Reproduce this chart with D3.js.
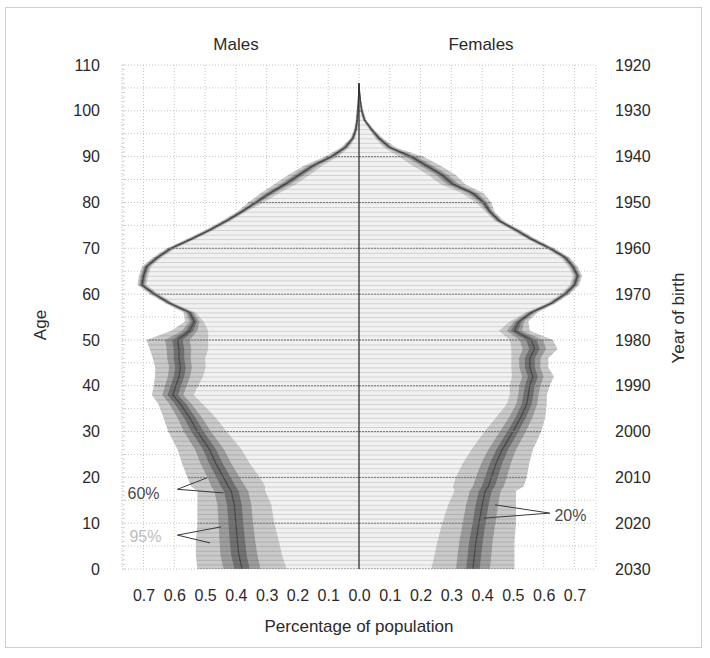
<!DOCTYPE html>
<html>
<head>
  <meta charset="utf-8">
  <style>
    body { margin: 0; background: #fff; }
    svg text { font-family: "Liberation Sans", Arial, sans-serif; fill: #2a2a2a; }
    svg .tick text { font-size: 16px; }
    svg .grid { stroke: #c4c4c4; stroke-width: 1px; stroke-dasharray: 1,2; fill: none; }
  </style>
</head>
<body>
  <div id="chart"></div>
  <script src="https://d3js.org/d3.v7.min.js"></script>
  <script>
    var ages = [0, 3, 6, 10, 14, 17, 18, 20, 23, 26, 30, 33, 36, 38, 40, 42, 44, 46, 48, 50,
                52, 54, 56, 58, 60, 62, 64, 66, 68, 70, 72, 74, 76, 78, 80, 82, 84, 86, 88, 90,
                92, 94, 96, 98, 100, 102, 104, 106];

    // median share of population (%) per age
    var maleMedian = [0.38, 0.39, 0.395, 0.40, 0.405, 0.415, 0.425, 0.44, 0.465, 0.485, 0.525, 0.55, 0.58, 0.605, 0.595, 0.585, 0.58, 0.585, 0.585, 0.59,
                      0.55, 0.535, 0.55, 0.615, 0.665, 0.705, 0.70, 0.69, 0.655, 0.61, 0.545, 0.485, 0.43, 0.38, 0.335, 0.29, 0.24, 0.195, 0.15, 0.09,
                      0.045, 0.02, 0.01, 0.006, 0.004, 0.002, 0.001, 0];
    var femaleMedian = [0.37, 0.375, 0.38, 0.39, 0.40, 0.41, 0.42, 0.43, 0.445, 0.465, 0.50, 0.525, 0.545, 0.55, 0.555, 0.565, 0.555, 0.555, 0.57, 0.56,
                        0.505, 0.52, 0.56, 0.625, 0.67, 0.70, 0.71, 0.695, 0.67, 0.62, 0.56, 0.51, 0.455, 0.425, 0.405, 0.37, 0.305, 0.27, 0.22, 0.17,
                        0.10, 0.065, 0.04, 0.018, 0.009, 0.005, 0.002, 0];

    // half widths of the 20%, 60% and 95% prediction intervals
    var male20 = [0.025, 0.025, 0.025, 0.024, 0.024, 0.024, 0.024, 0.023, 0.022, 0.021, 0.02, 0.019, 0.018, 0.017, 0.017, 0.017, 0.017, 0.017, 0.017, 0.017,
                  0.012, 0.008, 0.006, 0.005, 0.005, 0.005, 0.005, 0.005, 0.005, 0.005, 0.005, 0.005, 0.005, 0.005, 0.006, 0.007, 0.008, 0.008, 0.007, 0.006,
                  0.004, 0.003, 0.003, 0.002, 0.002, 0.001, 0.001, 0];
    var male60 = [0.06, 0.06, 0.058, 0.056, 0.055, 0.055, 0.055, 0.052, 0.05, 0.047, 0.044, 0.04, 0.036, 0.034, 0.035, 0.036, 0.037, 0.038, 0.04, 0.04,
                  0.025, 0.016, 0.012, 0.009, 0.009, 0.009, 0.009, 0.009, 0.009, 0.009, 0.009, 0.009, 0.009, 0.009, 0.012, 0.015, 0.017, 0.017, 0.015, 0.012,
                  0.008, 0.005, 0.004, 0.003, 0.003, 0.002, 0.001, 0];
    var male95 = [0.145, 0.14, 0.135, 0.125, 0.12, 0.11, 0.12, 0.118, 0.11, 0.104, 0.095, 0.085, 0.072, 0.068, 0.072, 0.078, 0.082, 0.085, 0.095, 0.10,
                  0.06, 0.03, 0.02, 0.015, 0.015, 0.015, 0.015, 0.015, 0.015, 0.015, 0.015, 0.015, 0.015, 0.015, 0.025, 0.03, 0.035, 0.035, 0.03, 0.022,
                  0.014, 0.008, 0.006, 0.005, 0.004, 0.003, 0.002, 0];
    var female20 = [0.022, 0.022, 0.022, 0.021, 0.021, 0.021, 0.021, 0.021, 0.02, 0.019, 0.018, 0.017, 0.016, 0.016, 0.016, 0.016, 0.016, 0.016, 0.017, 0.017,
                    0.012, 0.008, 0.006, 0.005, 0.005, 0.005, 0.005, 0.005, 0.005, 0.005, 0.005, 0.005, 0.005, 0.005, 0.006, 0.008, 0.009, 0.009, 0.009, 0.008,
                    0.005, 0.004, 0.003, 0.002, 0.002, 0.001, 0.001, 0];
    var female60 = [0.055, 0.055, 0.054, 0.053, 0.052, 0.05, 0.05, 0.05, 0.048, 0.045, 0.042, 0.038, 0.034, 0.033, 0.034, 0.035, 0.034, 0.035, 0.038, 0.038,
                    0.025, 0.016, 0.012, 0.009, 0.009, 0.009, 0.009, 0.009, 0.009, 0.009, 0.009, 0.009, 0.009, 0.009, 0.012, 0.017, 0.02, 0.02, 0.02, 0.018,
                    0.01, 0.008, 0.005, 0.004, 0.003, 0.002, 0.001, 0];
    var female95 = [0.135, 0.13, 0.125, 0.12, 0.11, 0.10, 0.115, 0.115, 0.108, 0.10, 0.092, 0.08, 0.065, 0.06, 0.065, 0.068, 0.06, 0.06, 0.075, 0.07,
                    0.05, 0.03, 0.02, 0.015, 0.015, 0.015, 0.015, 0.015, 0.015, 0.015, 0.015, 0.015, 0.015, 0.015, 0.025, 0.035, 0.04, 0.045, 0.045, 0.04,
                    0.02, 0.012, 0.008, 0.006, 0.005, 0.003, 0.002, 0];

    var xTicks = [-0.7, -0.6, -0.5, -0.4, -0.3, -0.2, -0.1, 0, 0.1, 0.2, 0.3, 0.4, 0.5, 0.6, 0.7];
    var ageTicks = [0, 10, 20, 30, 40, 50, 60, 70, 80, 90, 100, 110];
    var yearTicks = [2030, 2020, 2010, 2000, 1990, 1980, 1970, 1960, 1950, 1940, 1930, 1920];

    // annotation labels: text, colour, label position, line ends (share, age)
    var notes = [
      { text: "60%", color: "#4a4a4a", x: -0.752, age: 16.6, from: [-0.59, 17.4], to: [[-0.494, 19.9], [-0.44, 16.6]] },
      { text: "95%", color: "#bdbdbd", x: -0.746, age: 7.2, from: [-0.59, 7.4], to: [[-0.448, 9.2], [-0.484, 5.7]] },
      { text: "20%", color: "#4a4a4a", x: 0.635, age: 11.8, from: [0.62, 12.2], to: [[0.442, 14.0], [0.406, 11.1]] }
    ];

    var W = 710, H = 658;
    var svg = d3.select("#chart").append("svg")
      .attr("width", W)
      .attr("height", H);

    // frame round the figure
    svg.append("rect")
      .attr("x", 5.5).attr("y", 7.5)
      .attr("width", 696).attr("height", 640)
      .attr("fill", "none")
      .attr("stroke", "#cfcfcf");

    var xScale = d3.scaleLinear().domain([-0.77, 0.77]).range([122, 596]);
    var yScale = d3.scaleLinear().domain([0, 110]).range([569, 65]);
    var yearScale = d3.scaleLinear().domain([2030, 1920]).range([569, 65]);

    // grid
    var grid = svg.append("g");
    grid.selectAll("line.v")
      .data(xTicks.concat([-0.77, 0.77]))
      .enter().append("line")
        .classed("grid", true)
        .attr("x1", d => xScale(d)).attr("x2", d => xScale(d))
        .attr("y1", yScale(110)).attr("y2", yScale(0));
    grid.selectAll("line.h")
      .data(d3.range(0, 111, 5))
      .enter().append("line")
        .classed("grid", true)
        .attr("x1", xScale(-0.77)).attr("x2", xScale(0.77))
        .attr("y1", d => yScale(d)).attr("y2", d => yScale(d));

    // small year ticks along the left edge
    grid.selectAll("line.m")
      .data(d3.range(0, 111))
      .enter().append("line")
        .attr("x1", xScale(-0.77)).attr("x2", xScale(-0.77) + 3)
        .attr("y1", d => yScale(d)).attr("y2", d => yScale(d))
        .attr("stroke", "#d0d0d0");

    function side(median, h20, h60, h95, sign) {
      return ages.map(function (a, i) {
        return {
          age: a,
          med: sign * median[i],
          lo20: sign * (median[i] - h20[i]), hi20: sign * (median[i] + h20[i]),
          lo60: sign * (median[i] - h60[i]), hi60: sign * (median[i] + h60[i]),
          lo95: sign * (median[i] - h95[i]), hi95: sign * (median[i] + h95[i])
        };
      });
    }

    var males = side(maleMedian, male20, male60, male95, -1);
    var females = side(femaleMedian, female20, female60, female95, 1);

    function band(lo, hi) {
      return d3.area()
        .y(d => yScale(d.age))
        .x0(d => xScale(lo(d)))
        .x1(d => xScale(hi(d)));
    }

    var inner = band(d => 0, d => d.med);
    var outer = band(d => 0, d => d.hi95);
    var b95 = band(d => d.lo95, d => d.hi95);
    var b60 = band(d => d.lo60, d => d.hi60);
    var b20 = band(d => d.lo20, d => d.hi20);
    var medLine = d3.line().y(d => yScale(d.age)).x(d => xScale(d.med));

    var clip = svg.append("clipPath").attr("id", "pyr");
    [males, females].forEach(function (s) {
      clip.append("path").attr("d", outer(s));
    });

    var pyr = svg.append("g");
    [males, females].forEach(function (s) {
      pyr.append("path").attr("d", inner(s)).attr("fill", "#f1f1f1");
      pyr.append("path").attr("d", b95(s)).attr("fill", "#c9c9c9");
      pyr.append("path").attr("d", b60(s)).attr("fill", "#9c9c9c");
      pyr.append("path").attr("d", b20(s)).attr("fill", "#727272");
      pyr.append("path").attr("d", medLine(s))
        .attr("fill", "none").attr("stroke", "#4a4a4a").attr("stroke-width", 1.2);
    });

    // one bar edge per single year of age
    svg.append("g")
      .attr("clip-path", "url(#pyr)")
      .selectAll("line")
      .data(d3.range(0, 107))
      .enter().append("line")
        .attr("x1", xScale(-0.77)).attr("x2", xScale(0.77))
        .attr("y1", d => yScale(d) + 0.5).attr("y2", d => yScale(d) + 0.5)
        .attr("stroke", "rgba(0,0,0,0.13)");

    // 10-year lines show darker inside the pyramid
    svg.append("g")
      .attr("clip-path", "url(#pyr)")
      .selectAll("line")
      .data(d3.range(0, 111, 10))
      .enter().append("line")
        .attr("x1", xScale(-0.77)).attr("x2", xScale(0.77))
        .attr("y1", d => yScale(d)).attr("y2", d => yScale(d))
        .attr("stroke", "#777").attr("stroke-dasharray", "2,1");

    // centre line
    svg.append("line")
      .attr("x1", xScale(0)).attr("x2", xScale(0))
      .attr("y1", yScale(0)).attr("y2", yScale(106))
      .attr("stroke", "#222").attr("stroke-width", 1.2);

    // axes
    var xAxis = d3.axisBottom(xScale)
      .tickValues(xTicks)
      .tickFormat(d => Math.abs(d).toFixed(1))
      .tickSize(0).tickPadding(21);
    svg.append("g")
      .attr("transform", "translate(0," + yScale(0) + ")")
      .call(xAxis)
      .call(g => g.select(".domain").remove());

    var yAxis = d3.axisLeft(yScale).tickValues(ageTicks).tickSize(0).tickPadding(22);
    svg.append("g")
      .attr("transform", "translate(" + xScale(-0.77) + ",0)")
      .call(yAxis)
      .call(g => g.select(".domain").remove());

    var yearAxis = d3.axisRight(yearScale).tickValues(yearTicks).tickFormat(d3.format("d")).tickSize(0).tickPadding(19);
    svg.append("g")
      .attr("transform", "translate(" + xScale(0.77) + ",0)")
      .call(yearAxis)
      .call(g => g.select(".domain").remove());

    svg.selectAll(".tick text").style("fill", "#2a2a2a").style("font-family", "Liberation Sans, Arial, sans-serif");

    // titles
    svg.append("text").attr("x", 236).attr("y", 50).attr("text-anchor", "middle")
      .style("font-size", "17px").text("Males");
    svg.append("text").attr("x", 481).attr("y", 50).attr("text-anchor", "middle")
      .style("font-size", "17px").text("Females");
    svg.append("text").attr("x", 359).attr("y", 632).attr("text-anchor", "middle")
      .style("font-size", "17px").text("Percentage of population");
    svg.append("text").attr("transform", "translate(46,325) rotate(-90)")
      .attr("text-anchor", "middle").style("font-size", "17px").text("Age");
    svg.append("text").attr("transform", "translate(684,318) rotate(-90)")
      .attr("text-anchor", "middle").style("font-size", "17px").text("Year of birth");

    // interval annotations
    notes.forEach(function (n) {
      svg.append("text")
        .attr("x", xScale(n.x)).attr("y", yScale(n.age))
        .attr("dy", "0.35em")
        .style("font-size", "16px").style("fill", n.color)
        .text(n.text);
      n.to.forEach(function (t) {
        svg.append("line")
          .attr("x1", xScale(n.from[0])).attr("y1", yScale(n.from[1]))
          .attr("x2", xScale(t[0])).attr("y2", yScale(t[1]))
          .attr("stroke", "#3a3a3a").attr("stroke-width", 1);
      });
    });
  </script>
</body>
</html>
